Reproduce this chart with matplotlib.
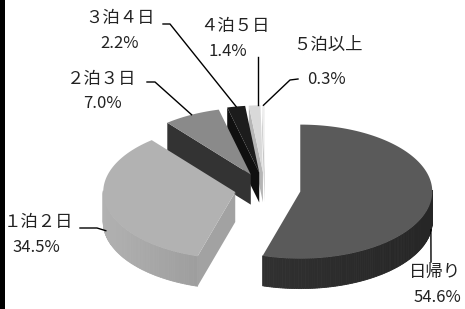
import numpy as np
import matplotlib
matplotlib.use("Agg")
import matplotlib.pyplot as plt
from matplotlib.patches import Polygon, Rectangle

plt.rcParams['font.family'] = ['Noto Sans CJK JP', 'DejaVu Sans']

# データ（宿泊日数別の構成比 %）
labels = ['日帰り', '１泊２日', '２泊３日', '３泊４日', '４泊５日', '５泊以上']
values = [54.6, 34.5, 7.0, 2.2, 1.4, 0.3]
pct_text = ['54.6%', '34.5%', '7.0%', '2.2%', '1.4%', '0.3%']

# 見た目（色・切り離し量）
top_colors = ['#5a5a5a', '#b2b2b2', '#8a8a8a', '#1c1c1c', '#d9d9d9', '#eeeeee']
wall_colors = ['#2e2e2e', '#969696', '#333333', '#101010', '#b5b5b5', '#c8c8c8']
explode = [0.27, 0.23, 0.24, 0.25, 0.25, 0.25]

# 楕円の中心・半径・厚み（ピクセル座標）
CX, CY = 265, 189
RX, RY = 132, 67
DEPTH = 30


def pt(ax_, ay_, a):
    return ax_ + RX * np.cos(a), ay_ - RY * np.sin(a)


def shade(color, f):
    c = np.array(matplotlib.colors.to_rgb(color))
    return tuple(np.clip(c * f, 0, 1))


fig = plt.figure(figsize=(4.65, 3.09), dpi=100)
ax = fig.add_axes([0, 0, 1, 1])
ax.set_xlim(0, 465)
ax.set_ylim(309, 0)
ax.axis('off')

# 角度（12時から時計回り）
fr = np.array(values) / sum(values)
starts = np.deg2rad(90 - 360 * np.concatenate([[0], np.cumsum(fr)[:-1]]))
ends = starts - 2 * np.pi * fr
mids = (starts + ends) / 2

apex = []
for i in range(len(values)):
    ox = explode[i] * RX * np.cos(mids[i])
    oy = -explode[i] * RY * np.sin(mids[i])
    apex.append((CX + ox, CY + oy))

# 奥から手前へ描画
order = sorted(range(len(values)), key=lambda i: apex[i][1] - 40 * np.sin(mids[i]))
for i in order:
    px, py = apex[i]
    a0, a1 = starts[i], ends[i]
    angs = np.linspace(a0, a1, max(4, int(np.degrees(a0 - a1)) + 2))
    # 側面（半径方向）
    for a, vis in ((a0, np.cos(a0) < 0), (a1, np.cos(a1) > 0)):
        if vis:
            ex, ey = pt(px, py, a)
            ax.add_patch(Polygon([(px, py), (ex, ey), (ex, ey + DEPTH), (px, py + DEPTH)],
                                 closed=True, fc=wall_colors[i] if i != 1 else '#a2a2a2',
                                 ec='none', zorder=2))
    # 外周の側面
    for k in range(len(angs) - 1):
        am = (angs[k] + angs[k + 1]) / 2
        if np.sin(am) > 0.02:
            continue
        x0, y0 = pt(px, py, angs[k])
        x1, y1 = pt(px, py, angs[k + 1])
        c = shade(wall_colors[i], 1 + 0.18 * (-np.cos(am)))
        ax.add_patch(Polygon([(x0, y0), (x1, y1), (x1, y1 + DEPTH), (x0, y0 + DEPTH)],
                             closed=True, fc=c, ec=c, lw=0.6, zorder=2))
    # 上面
    xs, ys = pt(px, py, angs)
    poly = [(px, py)] + list(zip(xs, ys))
    ax.add_patch(Polygon(poly, closed=True, fc=top_colors[i], ec='none', zorder=3))

# ラベル位置
name_pos = [(435, 272), (38, 222), (102, 79), (120, 18), (235, 26), (328, 45)]
pct_pos = [(437, 298), (36, 248), (102, 103), (120, 43), (228, 52), (326, 79)]
elbows = [[(431, 262)], [(80, 228), (97, 228)], [(147, 82), (155, 82)],
          [(163, 24), (170, 24)], [(258, 57)], [(298, 79), (290, 80)]]
depth_frac = [0.95, 0.85, 0, 0, 0, 0]

for i in range(len(values)):
    ax.text(*name_pos[i], labels[i], fontsize=12.5, ha='center', va='center',
            color='#222222', zorder=5)
    ax.text(*pct_pos[i], pct_text[i], fontsize=12, ha='center', va='center',
            color='#222222', zorder=5)
    ex, ey = pt(*apex[i], mids[i])
    ey += depth_frac[i] * DEPTH
    if i == 4:
        ex = elbows[i][0][0]
    pts = elbows[i] + [(ex, ey)]
    ax.plot([p[0] for p in pts], [p[1] for p in pts], color='black', lw=1.0, zorder=4)

# 左端の黒い帯（スキャン）
fig.patches.append(Rectangle((0, 0), 5 / 465, 1, transform=fig.transFigure,
                             fc='black', ec='none'))

fig.savefig('out.png', dpi=100)
